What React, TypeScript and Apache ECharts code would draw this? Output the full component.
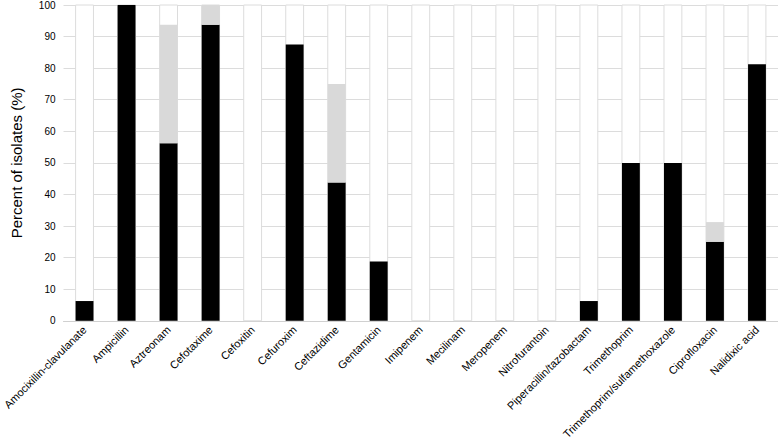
import React, { useEffect, useRef } from "react";
import * as echarts from "echarts";

const categories = [
  "Amocixillin-clavulanate",
  "Ampicillin",
  "Aztreonam",
  "Cefotaxime",
  "Cefoxitin",
  "Cefuroxim",
  "Ceftazidime",
  "Gentamicin",
  "Imipenem",
  "Mecilinam",
  "Meropenem",
  "Nitrofurantoin",
  "Piperacillin/tazobactam",
  "Trimethoprim",
  "Trimethoprim/sulfamethoxazole",
  "Ciprofloxacin",
  "Nalidixic acid",
];

const resistant = [6.25, 100, 56.25, 93.75, 0, 87.5, 43.75, 18.75, 0, 0, 0, 0, 6.25, 50, 50, 25, 81.25];
const intermediate = [0, 0, 37.5, 6.25, 0, 0, 31.25, 0, 0, 0, 0, 0, 0, 0, 0, 6.25, 0];

const yTicks = [0, 10, 20, 30, 40, 50, 60, 70, 80, 90, 100];

export default function App() {
  const ref = useRef<HTMLDivElement>(null);
  useEffect(() => {
    if (!ref.current) return;
    const chart = echarts.init(ref.current, null, { renderer: "svg" });
    const font = "Liberation Sans, Arial, sans-serif";
    chart.setOption({
      animation: false,
      backgroundColor: "#ffffff",
      grid: { left: 58, right: 0, top: 4, bottom: 121, containLabel: false },
      xAxis: {
        type: "category",
        data: categories,
        axisLine: { show: true, lineStyle: { color: "#d0d0d0", width: 1 } },
        axisTick: { show: false },
        splitLine: { show: false },
        axisLabel: {
          rotate: 45,
          interval: 0,
          fontSize: 11,
          color: "#000",
          fontFamily: font,
          margin: 7,
        },
      },
      yAxis: {
        type: "value",
        min: yTicks[0],
        max: yTicks[yTicks.length - 1],
        interval: 10,
        name: "Percent of isolates (%)",
        nameLocation: "middle",
        nameGap: 40,
        nameTextStyle: { fontSize: 15, color: "#000", fontFamily: font },
        axisLine: { show: false },
        axisTick: { show: false },
        axisLabel: { fontSize: 10, color: "#000", fontFamily: font, margin: 8 },
        splitLine: { show: true, lineStyle: { color: "#dcdcdc", width: 1 } },
      },
      series: [
        {
          name: "Resistant",
          type: "bar",
          stack: "total",
          data: resistant,
          barWidth: "42.5%",
          showBackground: true,
          backgroundStyle: { color: "#ffffff", borderColor: "#dcdcdc", borderWidth: 1 },
          itemStyle: { color: "#000000" },
        },
        {
          name: "Intermediate",
          type: "bar",
          stack: "total",
          data: intermediate,
          barWidth: "42.5%",
          itemStyle: { color: "#d9d9d9" },
        },
      ],
    });
    return () => chart.dispose();
  }, []);
  return (
    <div
      ref={ref}
      style={{ position: "absolute", left: 0, top: 0, width: 778, height: 442 }}
    />
  );
}
